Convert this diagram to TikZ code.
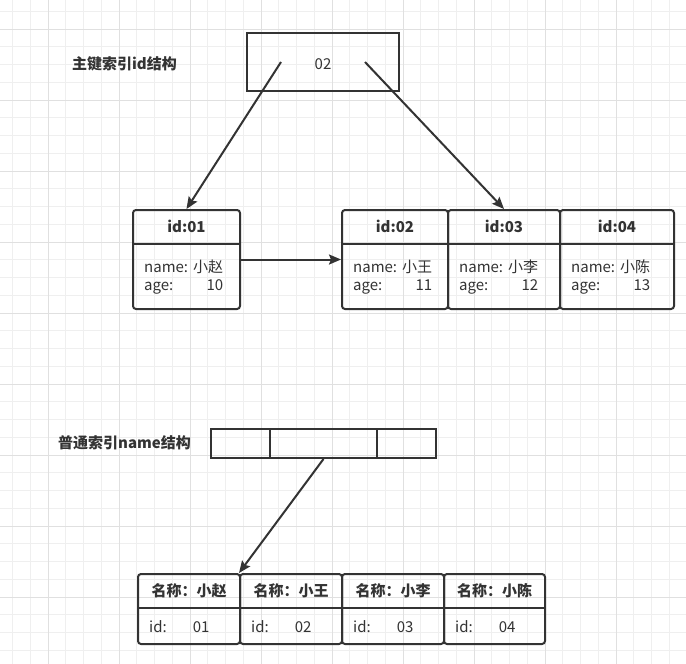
\documentclass[tikz,border=0pt]{standalone}
\usepackage{fontspec}
\setmainfont{Noto Sans CJK SC}
\usepackage{tikz}
\usetikzlibrary{arrows.meta}
\definecolor{lineclr}{HTML}{333333}
\definecolor{gridminor}{HTML}{EFEFEF}
\definecolor{gridmajor}{HTML}{E0E0E0}
\tikzstyle{arrow} = [draw=lineclr,line width=2pt,-{Stealth[length=12pt,width=10pt,inset=2pt]}]
\tikzstyle{rec} = [rectangle, rounded corners=3pt, draw=lineclr, line width=2pt,
anchor=north west, inner sep=0pt]
\tikzstyle{keybox} = [rectangle, draw=lineclr, line width=2pt, inner sep=0pt]
\tikzstyle{sep} = [draw=lineclr, line width=2pt]
\tikzstyle{head} = [font=\fontsize{15}{18}\selectfont\bfseries, text=lineclr]
\tikzstyle{body} = [anchor=west, inner sep=0pt, text=lineclr]
\tikzstyle{idxtitle} = [font=\fontsize{15}{18}\selectfont\bfseries, text=lineclr]

\begin{document}
\begin{tikzpicture}[x=1pt, y=-1pt, font=\fontsize{15}{18}\selectfont]
  % background grid
  \fill[white] (0,0) rectangle (686,664);
  \useasboundingbox (0,0) rectangle (686,664);
  \foreach \i in {0,...,38} \draw[gridminor, line width=1pt] (12.5+17.75*\i,0) -- ++(0,664);
  \foreach \i in {0,...,36} \draw[gridminor, line width=1pt] (0,11.25+17.75*\i) -- ++(686,0);
  \foreach \i in {0,...,8} \draw[gridmajor, line width=1pt] (48+71*\i,0) -- ++(0,664);
  \foreach \i in {0,...,8} \draw[gridmajor, line width=1pt] (0,29+71*\i) -- ++(686,0);

  % primary key index
  \node[idxtitle] (pktitle) at (124.5,64) {主键索引id结构};
  \node[keybox, minimum width=152pt, minimum height=58pt] (root) at (323,62) {};
  \node[text=lineclr] (rootkey) at (323,64) {02};

  \node[rec, minimum width=107pt, minimum height=99pt] (r01) at (132,209) {};
  \node[rec, minimum width=106pt, minimum height=99pt] (r02) at (341,209) {};
  \node[rec, minimum width=112pt, minimum height=99pt] (r03) at (447,209) {};
  \node[rec, minimum width=114pt, minimum height=99pt] (r04) at (559,209) {};
  \foreach \r/\id/\nm/\ag in {r01/01/小赵/10, r02/02/小王/11, r03/03/小李/12, r04/04/小陈/13} {
    \node[head] (\r h) at ([yshift=-17.5pt]\r.north) {id:\id};
    \draw[sep] ([yshift=-35pt]\r.north west) -- ([yshift=-35pt]\r.north east);
    \node[body] (\r b) at ([xshift=12pt,yshift=-69pt]\r.north west)
      {\begin{tabular}{@{}l@{\hspace{5pt}}r@{}}name: & \nm\\ age: & \ag\end{tabular}};
  }

  \draw[arrow] ([xshift=-42pt]root.center) -- (r01.north);
  \draw[arrow] ([xshift=42pt]root.center) -- (r03.north);
  \draw[arrow] (r01.east) -- (r02.west);

  % secondary index on name
  \node[idxtitle] (nmtitle) at (124.5,443) {普通索引name结构};
  \node[keybox, minimum width=59pt, minimum height=29pt] (c1) at (240.5,443.5) {};
  \node[keybox, minimum width=107pt, minimum height=29pt] (c2) at (323.5,443.5) {};
  \node[keybox, minimum width=59pt, minimum height=29pt] (c3) at (406.5,443.5) {};

  \node[rec, minimum width=102pt, minimum height=70pt] (n1) at (137,573) {};
  \node[rec, minimum width=102pt, minimum height=70pt] (n2) at (239,573) {};
  \node[rec, minimum width=102pt, minimum height=70pt] (n3) at (341,573) {};
  \node[rec, minimum width=101pt, minimum height=70pt] (n4) at (443,573) {};
  \foreach \n/\nm/\id in {n1/小赵/01, n2/小王/02, n3/小李/03, n4/小陈/04} {
    \node[head] (\n h) at ([yshift=-17.5pt]\n.north) {名称：\nm};
    \draw[sep] ([yshift=-35pt]\n.north west) -- ([yshift=-35pt]\n.north east);
    \node[body] (\n b) at ([xshift=12pt,yshift=-54pt]\n.north west) {id:\hspace{26pt}\id};
  }

  \draw[arrow] (c2.south) -- (n2.north west);
\end{tikzpicture}
\end{document}
